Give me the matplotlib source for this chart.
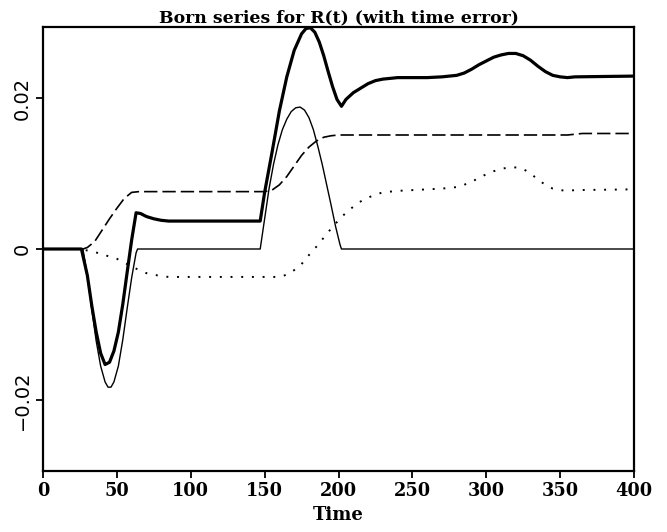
import numpy as np
import matplotlib
matplotlib.use("Agg")
from matplotlib import pyplot as plt

# thin solid: first Born term
t_thin = [0, 27, 30, 33, 36, 39, 42, 44, 46, 48, 51, 54, 57, 60, 63, 64,
          147, 150, 153, 156, 159, 162, 165, 168, 171, 174, 177, 180, 183,
          186, 189, 192, 195, 198, 201, 202, 400]
r_thin = [0, 0, -0.0035, -0.0080, -0.0122, -0.0155, -0.0176, -0.0183, -0.0183,
          -0.0176, -0.0155, -0.0120, -0.0078, -0.0038, -0.0005, 0,
          0, 0.0040, 0.0080, 0.0112, 0.0138, 0.0158, 0.0172, 0.0182, 0.0187,
          0.0188, 0.0184, 0.0174, 0.0158, 0.0136, 0.0112, 0.0085, 0.0058,
          0.0030, 0.0006, 0, 0]

# dashed
t_dash = [0, 27, 30, 35, 40, 45, 50, 55, 60, 65, 150, 155, 160, 165, 170,
          175, 180, 185, 190, 195, 200, 355, 365, 400]
r_dash = [0, 0, 0.0002, 0.0010, 0.0025, 0.0040, 0.0054, 0.0067, 0.0075,
          0.0076, 0.0076, 0.0078, 0.0085, 0.0096, 0.0110, 0.0124, 0.0135,
          0.0143, 0.0148, 0.0150, 0.0151, 0.0151, 0.0153, 0.0153]

# dotted
t_dot = [0, 25, 30, 35, 40, 45, 50, 55, 60, 65, 70, 75, 80, 85, 90, 160,
         165, 170, 175, 180, 185, 190, 195, 200, 205, 210, 215, 220, 225,
         230, 235, 240, 250, 260, 270, 275, 280, 285, 290, 295, 300, 305,
         310, 315, 320, 325, 330, 335, 340, 345, 350, 355, 360, 400]
r_dot = [0, 0, -0.0002, -0.0004, -0.0007, -0.0010, -0.0013, -0.0018, -0.0023,
         -0.0028, -0.0032, -0.0034, -0.0036, -0.0037, -0.0037, -0.0037,
         -0.0034, -0.0028, -0.0020, -0.0008, 0.0003, 0.0015, 0.0027, 0.0038,
         0.0048, 0.0056, 0.0063, 0.0068, 0.0072, 0.0075, 0.0076, 0.0077,
         0.0078, 0.0079, 0.0080, 0.0081, 0.0082, 0.0085, 0.0089, 0.0094,
         0.0099, 0.0103, 0.0106, 0.0108, 0.0108, 0.0106, 0.0100, 0.0092,
         0.0085, 0.0080, 0.0078, 0.0077, 0.0078, 0.0079]

# thick solid: partial sum
t_sum = [0, 26, 30, 33, 36, 39, 42, 45, 48, 51, 54, 57, 60, 63, 66, 70, 75,
         80, 85, 147, 150, 155, 160, 165, 170, 175, 178, 181, 184, 187, 190,
         193, 196, 199, 202, 205, 210, 215, 220, 225, 230, 235, 240, 260,
         270, 280, 285, 290, 295, 300, 305, 310, 315, 320, 325, 330, 335,
         340, 345, 350, 355, 360, 400]
r_sum = [0, 0, -0.0035, -0.0075, -0.0110, -0.0138, -0.0153, -0.0150, -0.0135,
         -0.0110, -0.0073, -0.0030, 0.0012, 0.0048, 0.0047, 0.0043, 0.0040,
         0.0038, 0.0037, 0.0037, 0.0075, 0.0128, 0.0183, 0.0228, 0.0263,
         0.0285, 0.0292, 0.0293, 0.0287, 0.0274, 0.0256, 0.0235, 0.0215,
         0.0198, 0.0189, 0.0198, 0.0207, 0.0213, 0.0219, 0.0223, 0.0225,
         0.0226, 0.0227, 0.0227, 0.0228, 0.0230, 0.0233, 0.0238, 0.0244,
         0.0249, 0.0254, 0.0257, 0.0259, 0.0259, 0.0256, 0.0250, 0.0242,
         0.0235, 0.0230, 0.0228, 0.0227, 0.0228, 0.0229]

x_ticks = [0, 50, 100, 150, 200, 250, 300, 350, 400]
y_ticks = [-0.02, 0, 0.02]
y_labels = ['\u22120.02', '0', '0.02']

fig = plt.figure(figsize=(6.67, 5.32), dpi=100)
ax = fig.add_axes([0.0645, 0.1147, 0.886, 0.8345])

ax.plot(t_sum, r_sum, color='black', lw=2.3, solid_joinstyle='round')
ax.plot(t_thin, r_thin, color='black', lw=1.0)
ax.plot(t_dash, r_dash, color='black', lw=1.2, dashes=(8, 3))
ax.plot(t_dot, r_dot, color='black', lw=1.4, linestyle=(0, (1, 4.5)))

ax.set_xlim(0, 400)
ax.set_ylim(-0.0294, 0.0294)
ax.set_xticks(x_ticks)
ax.set_xticklabels([str(v) for v in x_ticks], fontfamily='DejaVu Serif',
                   fontweight='bold', fontsize=12.8)
ax.set_yticks(y_ticks)
ax.set_yticklabels(y_labels, rotation=90, va='center', fontfamily='DejaVu Sans',
                   fontsize=14)
ax.tick_params(direction='out', length=5, width=1.3, pad=3)
for s in ax.spines.values():
    s.set_linewidth(1.6)

ax.set_title('Born series for R(t) (with time error)', fontfamily='DejaVu Serif',
             fontweight='bold', fontsize=12.4, pad=3)
ax.set_xlabel('Time', fontfamily='DejaVu Serif', fontweight='bold', fontsize=13,
              labelpad=4)

fig.savefig('out.png', dpi=100)
